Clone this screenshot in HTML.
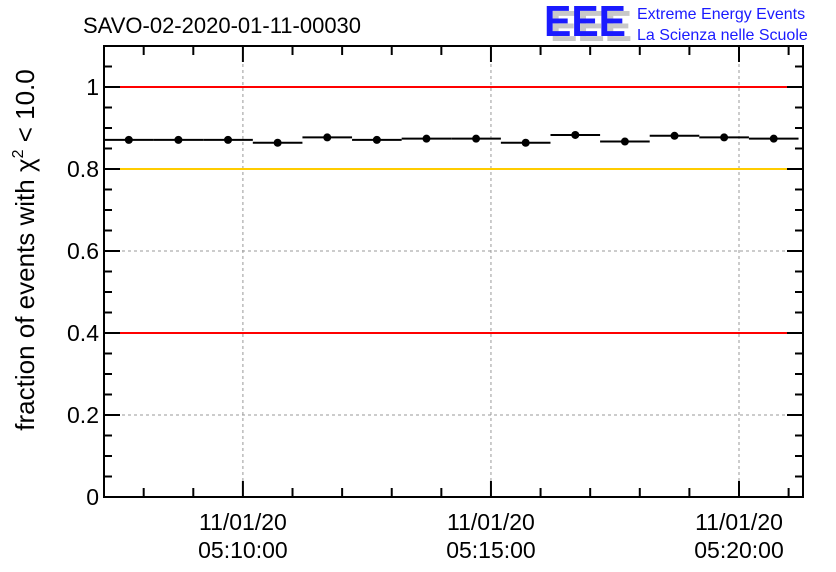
<!DOCTYPE html>
<html><head><meta charset="utf-8"><style>
body{margin:0;background:#fff;}
svg{display:block;font-family:"Liberation Sans",sans-serif;}
</style></head><body>
<svg id="chart" width="836" height="572" viewBox="0 0 836 572">
<rect width="836" height="572" fill="#fff"/>
<text x="83" y="33" font-size="22">SAVO-02-2020-01-11-00030</text>
<g>
<text x="550" y="41" font-size="44" font-weight="bold" fill="#c8c8c8" textLength="82" lengthAdjust="spacingAndGlyphs">EEE</text>
<text x="544" y="36" font-size="44" font-weight="bold" fill="#1a1aff" textLength="82" lengthAdjust="spacingAndGlyphs">EEE</text>
<text x="637" y="19" font-size="16" fill="#1a1aff">Extreme Energy Events</text>
<text x="637" y="40" font-size="16" fill="#1a1aff">La Scienza nelle Scuole</text>
</g>
<text transform="translate(34,250) rotate(-90)" text-anchor="middle" font-size="26">fraction of events with χ<tspan dy="-11" font-size="16">2</tspan><tspan dy="11"> &lt; 10.0</tspan></text>
<g id="grid"></g><g id="lines"></g><g id="marks"></g><g id="axes"></g>
</svg>
<script>
const xLabels1 = ["11/01/20","11/01/20","11/01/20"];
const xLabels2 = ["05:10:00","05:15:00","05:20:00"];
const xLabelMinutes = [10,15,20];
const yTicks = [0,0.2,0.4,0.6,0.8,1];
const yTickLabels = ["0","0.2","0.4","0.6","0.8","1"];
const binMinutes = [7.7,8.7,9.7,10.7,11.7,12.7,13.7,14.7,15.7,16.7,17.7,18.7,19.7,20.7];
const fractions = [0.871,0.871,0.871,0.864,0.877,0.871,0.874,0.874,0.864,0.883,0.867,0.881,0.877,0.874];
const refLines = [{v:1,c:"#ff0000"},{v:0.8,c:"#ffcc00"},{v:0.4,c:"#ff0000"}];

const L=104,R=803,T=46,B=497;
const xMin=7.2, xMax=21.29, yMin=0, yMax=1.1;
const X=m=>L+(m-xMin)/(xMax-xMin)*(R-L);
const Y=v=>B-(v-yMin)/(yMax-yMin)*(B-T);
const NS="http://www.w3.org/2000/svg";
function mk(parent,tag,attrs){const e=document.createElementNS(NS,tag);for(const k in attrs)e.setAttribute(k,attrs[k]);document.getElementById(parent).appendChild(e);return e;}

xLabelMinutes.forEach(m=>{const e=mk("grid","line",{x1:X(m),x2:X(m),y1:T,y2:B,stroke:"#999","stroke-dasharray":"3,3"});

});
[0.2,0.6].forEach(v=>{const e=mk("grid","line",{x1:L,x2:R,y1:Y(v),y2:Y(v),stroke:"#999","stroke-dasharray":"3,3"});

});
refLines.forEach(r=>{const e=mk("lines","line",{x1:L,x2:R,y1:Y(r.v),y2:Y(r.v),stroke:r.c,"stroke-width":2});

});

binMinutes.forEach((m,i)=>{
 const y=Y(fractions[i]);
 const x1=Math.max(L,X(m-0.5)), x2=Math.min(R,X(m+0.5));
 const h=mk("marks","line",{x1:x1,x2:x2,y1:y,y2:y,stroke:"#000","stroke-width":2});
 
 
 const c=mk("marks","circle",{cx:X(m),cy:y,r:4,fill:"#000"});
 
 
});

const f=mk("axes","rect",{x:L,y:T,width:R-L,height:B-T,fill:"none",stroke:"#000","stroke-width":2});


for(let m=8;m<=21;m++){
 const len=(m%5===0)?16:9;
 mk("axes","line",{x1:X(m),x2:X(m),y1:B,y2:B-len,stroke:"#000","stroke-width":2});
 mk("axes","line",{x1:X(m),x2:X(m),y1:T,y2:T+len,stroke:"#000","stroke-width":2});
}
for(let k=0;k<=22;k++){
 const v=k*0.05, len=(k%4===0)?16:8;
 mk("axes","line",{x1:L,x2:L+len,y1:Y(v),y2:Y(v),stroke:"#000","stroke-width":2});
 mk("axes","line",{x1:R,x2:R-len,y1:Y(v),y2:Y(v),stroke:"#000","stroke-width":2});
}
yTicks.forEach((v,i)=>{const t=mk("axes","text",{x:L-5,y:Y(v)+8,"text-anchor":"end","font-size":23});
t.textContent=yTickLabels[i];

});
xLabelMinutes.forEach((m,i)=>{
 const t1=mk("axes","text",{x:X(m),y:530,"text-anchor":"middle","font-size":23});t1.textContent=xLabels1[i];
 
 
 const t2=mk("axes","text",{x:X(m),y:558,"text-anchor":"middle","font-size":23});t2.textContent=xLabels2[i];
 
 
});
</script>
</body></html>
